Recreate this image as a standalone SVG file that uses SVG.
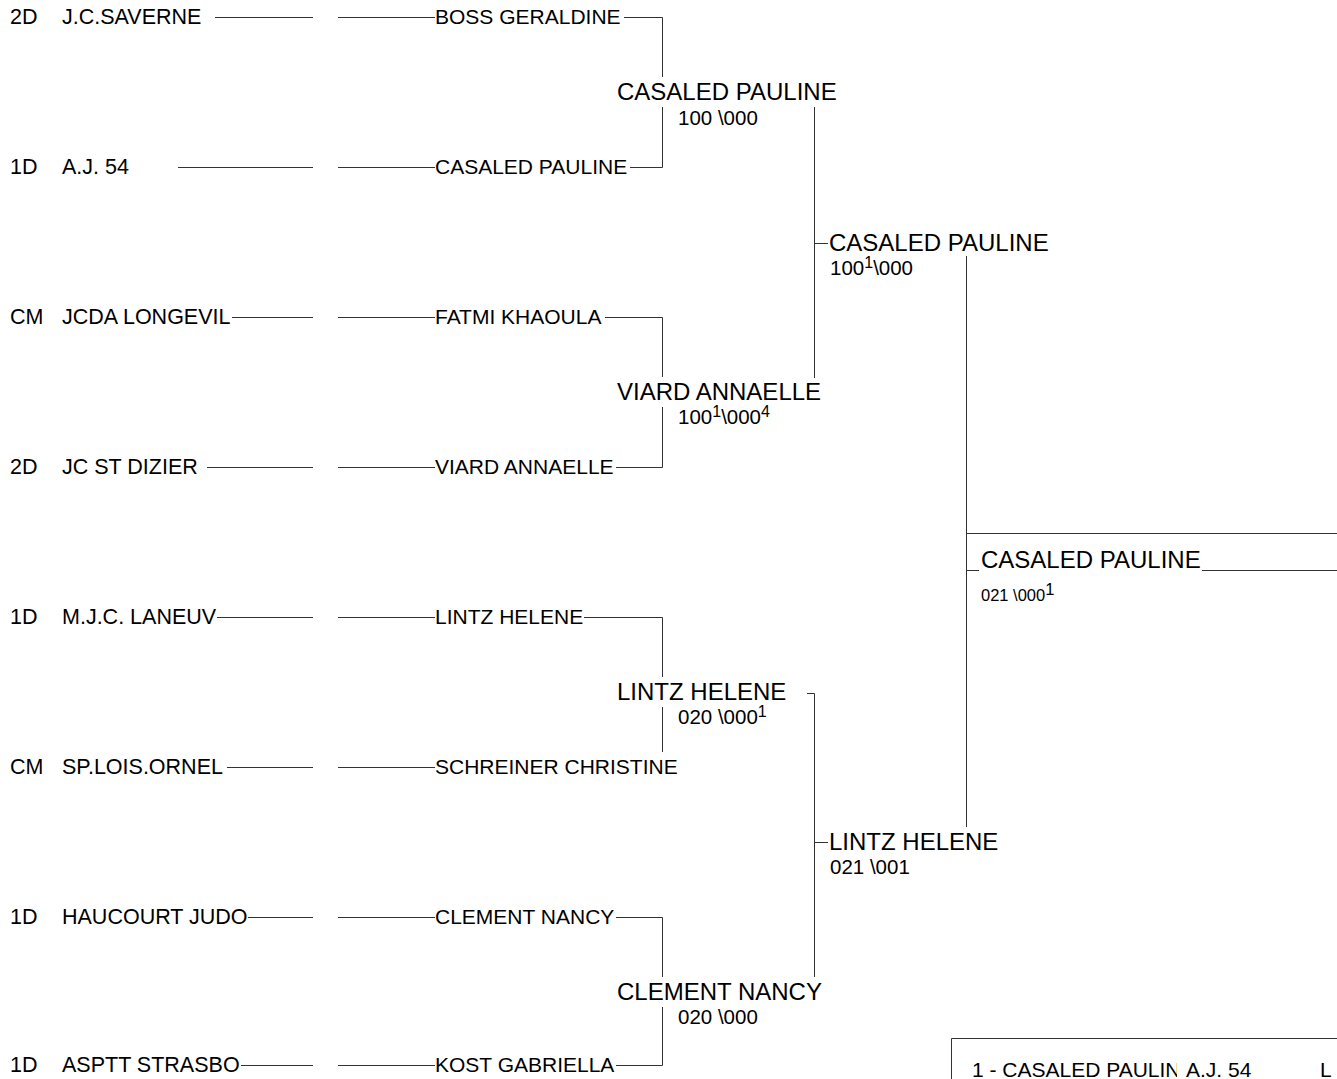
<svg xmlns="http://www.w3.org/2000/svg" width="1337" height="1079" viewBox="0 0 1337 1079">
<style>
text{font-family:"Liberation Sans",Arial,sans-serif;fill:#000}
.c{font-size:21.5px}
.n{font-size:21px}
.w{font-size:24px}
.s{font-size:20.5px}
.sp{font-size:16px}
.fs{font-size:16.5px}
.ln{stroke:#333;stroke-width:1;fill:none}
</style>
<defs>
<clipPath id="clipName"><rect x="960" y="1040" width="217" height="39"/></clipPath>
</defs>
<rect width="1337" height="1079" fill="#fff"/>
<g id="connectors" class="ln">
<path d="M215 17.5H313M338 17.5H435M624 17.5H662.5"/>
<path d="M178 167.5H313M338 167.5H435M630 167.5H662.5"/>
<path d="M232 317.5H313M338 317.5H435M605 317.5H662.5"/>
<path d="M207 467.5H313M338 467.5H435M616 467.5H662.5"/>
<path d="M217 617.5H313M338 617.5H435M584 617.5H662.5"/>
<path d="M227 767.5H313M338 767.5H435"/>
<path d="M248 917.5H313M338 917.5H435M616 917.5H662.5"/>
<path d="M241 1065.5H313M338 1065.5H435M616 1065.5H662.5"/>
<path d="M662.5 17.5V77M662.5 107V167.5"/>
<path d="M662.5 317.5V377M662.5 407V467.5"/>
<path d="M662.5 617.5V677M662.5 707V752"/>
<path d="M662.5 917.5V977M662.5 1007V1065.5"/>
<path d="M814.5 107V378M814.5 243.5H828"/>
<path d="M807 693.5H814.5V977M814.5 842.5H828"/>
<path d="M966.5 256V827"/>
<path d="M966.5 533.5H1337M966.5 570.5H979M1202 570.5H1337"/>
<path d="M951.5 1079V1038.5H1337"/>
</g>
<g id="row1"><text class="c" x="10" y="24">2D</text><text class="c" x="62" y="24">J.C.SAVERNE</text><text class="n" x="435" y="24">BOSS GERALDINE</text></g>
<g id="row2"><text class="c" x="10" y="174">1D</text><text class="c" x="62" y="174">A.J. 54</text><text class="n" x="435" y="174">CASALED PAULINE</text></g>
<g id="row3"><text class="c" x="10" y="324">CM</text><text class="c" x="62" y="324">JCDA LONGEVIL</text><text class="n" x="435" y="324">FATMI KHAOULA</text></g>
<g id="row4"><text class="c" x="10" y="474">2D</text><text class="c" x="62" y="474">JC ST DIZIER</text><text class="n" x="435" y="474">VIARD ANNAELLE</text></g>
<g id="row5"><text class="c" x="10" y="624">1D</text><text class="c" x="62" y="624">M.J.C. LANEUV</text><text class="n" x="435" y="624">LINTZ HELENE</text></g>
<g id="row6"><text class="c" x="10" y="774">CM</text><text class="c" x="62" y="774">SP.LOIS.ORNEL</text><text class="n" x="435" y="774">SCHREINER CHRISTINE</text></g>
<g id="row7"><text class="c" x="10" y="924">1D</text><text class="c" x="62" y="924">HAUCOURT JUDO</text><text class="n" x="435" y="924">CLEMENT NANCY</text></g>
<g id="row8"><text class="c" x="10" y="1072">1D</text><text class="c" x="62" y="1072">ASPTT STRASBO</text><text class="n" x="435" y="1072">KOST GABRIELLA</text></g>
<g id="r2a"><text class="w" x="617" y="100">CASALED PAULINE</text><text class="s" x="678" y="125">100 \000</text></g>
<g id="r2b"><text class="w" x="617" y="400">VIARD ANNAELLE</text><text class="s" x="678" y="424">100<tspan class="sp" dy="-7">1</tspan><tspan dy="7">\000</tspan><tspan class="sp" dy="-7">4</tspan></text></g>
<g id="r2c"><text class="w" x="617" y="700">LINTZ HELENE</text><text class="s" x="678" y="724">020 \000<tspan class="sp" dy="-7">1</tspan></text></g>
<g id="r2d"><text class="w" x="617" y="1000">CLEMENT NANCY</text><text class="s" x="678" y="1024">020 \000</text></g>
<g id="r3a"><text class="w" x="829" y="251">CASALED PAULINE</text><text class="s" x="830" y="275">100<tspan class="sp" dy="-7">1</tspan><tspan dy="7">\000</tspan></text></g>
<g id="r3b"><text class="w" x="829" y="850">LINTZ HELENE</text><text class="s" x="830" y="874">021 \001</text></g>
<g id="final"><text class="w" x="981" y="568">CASALED PAULINE</text><text class="fs" x="981" y="601">021 \000<tspan dy="-6">1</tspan></text></g>
<g id="results">
<text class="n" x="972" y="1077" clip-path="url(#clipName)">1 - CASALED PAULIN</text>
<text class="n" x="1186" y="1077">A.J. 54</text>
<text class="n" x="1320" y="1077">L</text>
</g>
</svg>
